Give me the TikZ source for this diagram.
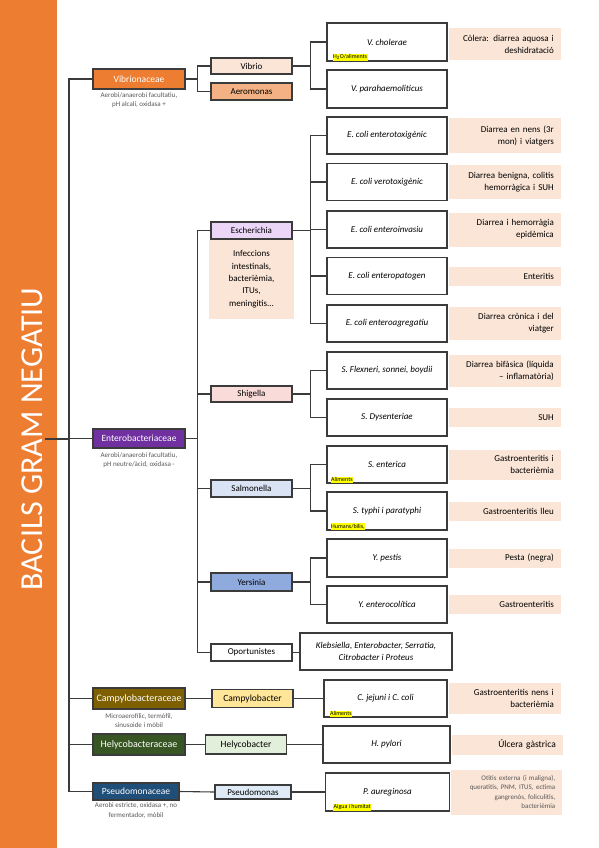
\documentclass[tikz,border=0pt]{standalone}
\usepackage{fontspec}
\setmainfont{Carlito}
\usepackage{tikz}
\usetikzlibrary{positioning}
\definecolor{mOrange}{HTML}{ED7D31}
\definecolor{mPurple}{HTML}{7030A0}
\definecolor{mBrown}{HTML}{7F6000}
\definecolor{mDarkGreen}{HTML}{375623}
\definecolor{mNavy}{HTML}{1F4E79}
\definecolor{mPeach}{HTML}{FBE5D6}
\definecolor{mApricot}{HTML}{F4B183}
\definecolor{mLavender}{HTML}{EBD6F8}
\definecolor{mPink}{HTML}{F9DCDA}
\definecolor{mPaleBlue}{HTML}{DAE3F3}
\definecolor{mMidBlue}{HTML}{8FAADC}
\definecolor{mButter}{HTML}{FFE699}
\definecolor{mPaleGreen}{HTML}{E2EFDA}
\definecolor{mIce}{HTML}{DEEBF7}
\definecolor{mLine}{HTML}{3B3B3B}
\definecolor{mNote}{HTML}{595959}
\definecolor{mMark}{HTML}{FFFF00}

\begin{document}
\begin{tikzpicture}[x=1pt, y=-1pt,
    family/.style={draw=mLine, line width=1.2pt, text=white, inner sep=0pt, minimum width=92pt, minimum height=20pt, font=\fontsize{9.5}{11}\selectfont},
    genus/.style={draw=mLine, line width=1.1pt, inner sep=0pt, minimum width=81pt, minimum height=17pt, font=\fontsize{9}{11}\selectfont},
    species/.style={draw=mLine, line width=1.2pt, fill=white, inner sep=0pt, minimum width=120pt, minimum height=37pt, align=center, font=\fontsize{9}{11.5}\selectfont\itshape},
    illness/.style={fill=mPeach, anchor=west, inner xsep=7pt, inner ysep=0pt, text width=98pt, align=right, font=\fontsize{9}{12}\selectfont},
    note/.style={anchor=north, inner sep=0pt, align=center, text=mNote, font=\fontsize{7}{9.5}\selectfont},
    source/.style={fill=mMark, anchor=south west, inner xsep=0.6pt, inner ysep=0.8pt, font=\fontsize{6}{6.5}\selectfont},
    link/.style={draw=mLine, line width=1.1pt}]
    \fill[white] (0,0) rectangle (599,848);
    \useasboundingbox (0,0) rectangle (599,848);
    \fill[mOrange] (0,0) rectangle (57,848);
    \node[rotate=90, text=white, inner sep=0pt, font=\fontsize{32}{34}\selectfont] (title) at (32.5,439) {BACILS GRAM NEGATIU};
    \coordinate (trunk) at (69,439);

    % families
    \node[family, fill=mOrange] (vibf) at (139,79) {Vibrionaceae};
    \node[family, fill=mPurple, minimum height=19pt] (entf) at (139,438.5) {Enterobacteriaceae};
    \node[family, fill=mBrown, minimum height=21pt, font=\fontsize{10}{11}\selectfont] (campf) at (139,698.5) {Campylobacteraceae};
    \node[family, fill=mDarkGreen, minimum height=21pt, font=\fontsize{10}{11}\selectfont] (helf) at (139,744.5) {Helycobacteraceae};
    \node[family, fill=mNavy, minimum width=86pt, minimum height=17pt] (psef) at (136,791.5) {Pseudomonaceae};
    \node[note] (vibnote) at ([yshift=-2.5pt]vibf.south) {Aerobi/anaerobi facultatiu,\\pH alcalí, oxidasa +};
    \node[note] (entnote) at ([yshift=-3.5pt]entf.south) {Aerobi/anaerobi facultatiu,\\pH neutre/àcid, oxidasa -};
    \node[note] (campnote) at ([yshift=-3.5pt]campf.south) {Microaerofílic, termòfil,\\sinusoide i mòbil};
    \node[note] (psenote) at ([yshift=-2pt]psef.south) {Aerobi estricte, oxidasa +, no\\fermentador, mòbil};

    % genera
    \node[genus, fill=mPeach, minimum height=16pt] (vibrio) at (251.5,66) {Vibrio};
    \node[genus, fill=mApricot] (aero) at (251.5,91.5) {Aeromonas};
    \node[genus, fill=mLavender] (esch) at (251.5,230.5) {Escherichia};
    \node[fill=mPeach, anchor=north, inner sep=0pt, minimum width=85pt, minimum height=79pt, align=center, font=\fontsize{9}{12.4}\selectfont] (eschinfo) at (esch.south) {Infeccions\\intestinals,\\bacterièmia,\\ITUs,\\meningitis...};
    \node[genus, fill=mPink, minimum height=16pt] (shig) at (251.5,394) {Shigella};
    \node[genus, fill=mPaleBlue] (salm) at (251.5,488.5) {Salmonella};
    \node[genus, fill=mMidBlue, minimum height=18pt] (yers) at (251.5,582) {Yersinia};
    \node[genus, fill=white] (oport) at (251.5,652.5) {Oportunistes};
    \node[genus, fill=mButter, minimum height=18pt, font=\fontsize{9.5}{11}\selectfont] (campg) at (252.5,698.5) {Campylobacter};
    \node[genus, fill=mPaleGreen, minimum height=19pt, font=\fontsize{9.5}{11}\selectfont] (helg) at (246,744.5) {Helycobacter};
    \node[genus, fill=mIce, minimum width=76pt, minimum height=14pt] (pseg) at (253,792) {Pseudomonas};

    % species
    \node[species, minimum height=38pt] (vc) at (387,42) {V. cholerae};
    \node[species, minimum height=38pt] (vp) at (387,89) {V. parahaemoliticus};
    \node[species] (ec1) at (387,135.5) {E. coli enterotoxigènic};
    \node[species] (ec2) at (387,182) {E. coli verotoxigènic};
    \node[species] (ec3) at (387,229.5) {E. coli enteroinvasiu};
    \node[species] (ec4) at (387,276) {E. coli enteropatogen};
    \node[species] (ec5) at (387,323.5) {E. coli enteroagregatiu};
    \node[species] (sf) at (387,370.5) {S. Flexneri, sonnei, boydii};
    \node[species] (sd) at (387,417.5) {S. Dysenteriae};
    \node[species] (se) at (387,464.5) {S. enterica};
    \node[species, minimum height=38pt] (st) at (387,511) {S. typhi i paratyphi};
    \node[species, minimum height=38pt] (yp) at (387,558) {Y. pestis};
    \node[species] (ye) at (387,604.5) {Y. enterocolítica};
    \node[species, minimum width=152pt] (klebs) at (376,651.5) {Klebsiella, Enterobacter, Serratia,\\Citrobacter i Proteus};
    \node[species, minimum width=123pt] (cj) at (385.5,698.5) {C. jejuni i C. coli};
    \node[species, minimum width=127pt] (hp) at (386.5,744.5) {H. pylori};
    \node[species, minimum width=124pt, minimum height=38pt] (pa) at (387.5,792) {P. aureginosa};
    \node[source] (vcsrc) at ([xshift=6pt,yshift=0.6pt]vc.south west) {H\textsubscript{2}O/aliments};
    \node[source] (sesrc) at ([xshift=4pt,yshift=0.6pt]se.south west) {Aliments};
    \node[source] (stsrc) at ([xshift=4pt,yshift=0.6pt]st.south west) {Humans/bilis,};
    \node[source] (cjsrc) at ([xshift=6pt,yshift=0.6pt]cj.south west) {Aliments};
    \node[source] (pasrc) at ([xshift=8pt,yshift=0.6pt]pa.south west) {Aigua i humitat};

    % diseases
    \node[illness, minimum height=32pt] (vcdis) at ([xshift=1pt,yshift=-2pt]vc.east) {Còlera: diarrea aquosa i\\deshidratació};
    \node[illness, minimum height=35pt] (ec1dis) at ([xshift=1pt]ec1.east) {Diarrea en nens (3r\\mon) i viatgers};
    \node[illness, minimum height=34pt] (ec2dis) at ([xshift=1pt]ec2.east) {Diarrea benigna, colitis\\hemorràgica i SUH};
    \node[illness, minimum height=34pt] (ec3dis) at ([xshift=1pt]ec3.east) {Diarrea i hemorràgia\\epidèmica};
    \node[illness, minimum height=19pt] (ec4dis) at ([xshift=1pt]ec4.east) {Enteritis};
    \node[illness, minimum height=33pt] (ec5dis) at ([xshift=1pt]ec5.east) {Diarrea crònica i del\\viatger};
    \node[illness, minimum height=32pt] (sfdis) at ([xshift=1pt]sf.east) {Diarrea bifàsica (líquida\\– inflamatòria)};
    \node[illness, minimum height=19pt] (sddis) at ([xshift=1pt]sd.east) {SUH};
    \node[illness, minimum height=30pt] (sedis) at ([xshift=1pt]se.east) {Gastroenteritis i\\bacterièmia};
    \node[illness, minimum height=19pt] (stdis) at ([xshift=1pt]st.east) {Gastroenteritis lleu};
    \node[illness, minimum height=19pt] (ypdis) at ([xshift=1pt]yp.east) {Pesta (negra)};
    \node[illness, minimum height=19pt] (yedis) at ([xshift=1pt]ye.east) {Gastroenteritis};
    \node[illness, minimum height=31pt] (cjdis) at ([xshift=1pt]cj.east) {Gastroenteritis nens i\\bacterièmia};
    \node[illness, minimum height=20pt, text width=97pt, font=\fontsize{9.5}{12}\selectfont] (hpdis) at ([xshift=1pt]hp.east) {Úlcera gàstrica};
    \node[illness, minimum height=45pt, text width=97pt, text=mNote, font=\fontsize{7}{9.5}\selectfont] (padis) at ([xshift=1pt]pa.east) {Otitis externa (i maligna),\\queratitis, PNM, ITUS, ectima\\gangrenós, foliculitis,\\bacterièmia};

    % connectors
    \draw[link] ([xshift=2pt]title.south) -- (trunk);
    \foreach \f in {vibf,entf,campf,helf,psef}
      \draw[link] (trunk) |- (\f.west);
    \foreach \g in {vibrio,aero}
      \draw[link] (vibf.east) -- ++(12,0) |- (\g.west);
    \foreach \g in {esch,shig,salm,yers,oport}
      \draw[link] (entf.east) -- ++(12,0) |- (\g.west);
    \draw[link] (campf.east) -- (campg.west);
    \draw[link] (helf.east) -- (helg.west);
    \draw[link] (psef.east) -- (pseg.west);
    \foreach \g/\s in {vibrio/vc, vibrio/vp, esch/ec1, esch/ec2, esch/ec3, esch/ec4, esch/ec5, shig/sf, shig/sd, salm/se, salm/st, yers/yp, yers/ye}
      \draw[link] (\g.east) -- ++(18,0) |- (\s.west);
    \draw[link] (oport.east) -- (oport.east -| klebs.west);
    \draw[link] (campg.east) -- (cj.west);
    \draw[link] (helg.east) -- (hp.west);
    \draw[link] (pseg.east) -- (pa.west);
\end{tikzpicture}
\end{document}
